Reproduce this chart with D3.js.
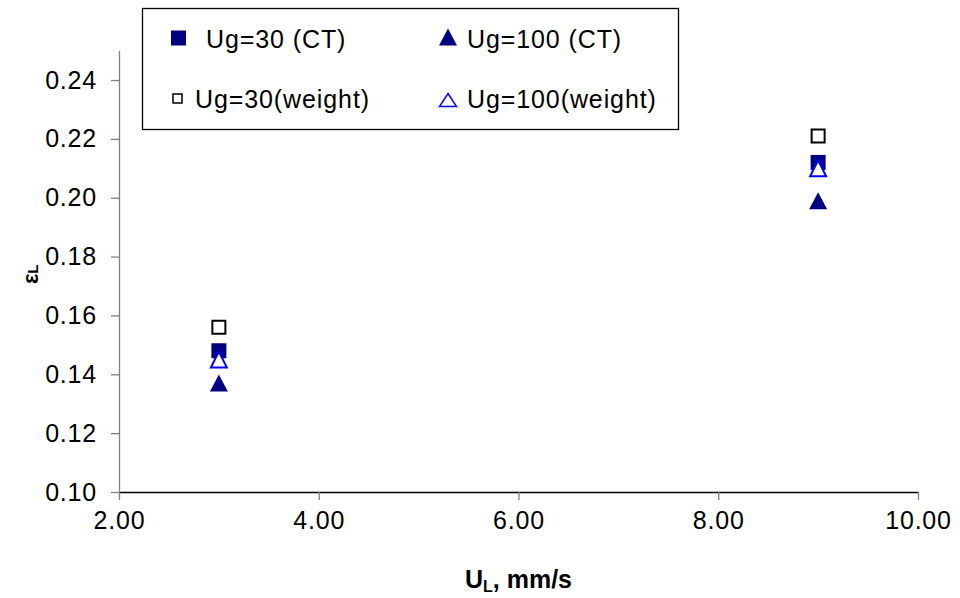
<!DOCTYPE html>
<html><head><meta charset="utf-8">
<script src="https://cdn.jsdelivr.net/npm/d3@7"></script>
<style>
body{margin:0;background:#fff;}
text{font-family:"Liberation Sans",Arial,sans-serif;}
</style></head>
<body><svg id="c" width="960" height="598"></svg>
<script>
const xValues = [3, 9];
const seriesNames = ["Ug=30 (CT)", "Ug=100 (CT)", "Ug=30(weight)", "Ug=100(weight)"];
const ug30CT = [0.148, 0.212];
const ug100CT = [0.137, 0.199];
const ug30Weight = [0.156, 0.221];
const ug100Weight = [0.145, 0.210];
const xTicks = [2, 4, 6, 8, 10];
const yTicks = [0.10, 0.12, 0.14, 0.16, 0.18, 0.20, 0.22, 0.24];

const svg = d3.select("#c");
const mLeft = 119, mRight = 918, mTop = 50.6, mBottom = 492;
const x = d3.scaleLinear().domain([2, 10]).range([mLeft, mRight]);
const y = d3.scaleLinear().domain([0.10, 0.25]).range([mBottom, mTop]);

// axes
const yAxis = svg.append("g").attr("transform", `translate(${mLeft},0)`)
  .call(d3.axisLeft(y).tickValues(yTicks).tickFormat(d3.format(".2f")).tickSizeOuter(0).tickSizeInner(8).tickPadding(14));
yAxis.select(".domain").attr("stroke", "#808080").attr("stroke-width", 1.3);
yAxis.selectAll(".tick line").attr("stroke", "#808080").attr("stroke-width", 1.3);
yAxis.selectAll(".tick text").attr("font-size", 25).attr("fill", "#000").attr("letter-spacing", "0.8px");

const xAxis = svg.append("g").attr("transform", `translate(0,${mBottom})`)
  .call(d3.axisBottom(x).tickValues(xTicks).tickFormat(d3.format(".2f")).tickSizeOuter(0).tickSizeInner(8).tickPadding(11));
xAxis.select(".domain").attr("stroke", "#000").attr("stroke-width", 1.3);
xAxis.selectAll(".tick line").attr("stroke", "#808080").attr("stroke-width", 1.3);
xAxis.selectAll(".tick text").attr("font-size", 25).attr("fill", "#000").attr("letter-spacing", "0.8px");

// axis titles
const xt = svg.append("text").attr("x", (mLeft + mRight) / 2).attr("y", 588)
  .attr("text-anchor", "middle").attr("font-size", 25).attr("font-weight", "bold");
xt.append("tspan").text("U");
xt.append("tspan").text("L").attr("font-size", 16).attr("dy", 4);
xt.append("tspan").text(", mm/s").attr("dy", -4);

const yt = svg.append("text").attr("transform", `translate(38,${(mTop + mBottom) / 2 + 3}) rotate(-90)`)
  .attr("text-anchor", "middle").attr("font-weight", "bold");
yt.append("tspan").text("ε").attr("font-size", 22);
yt.append("tspan").text("L").attr("font-size", 15);

// marker shapes
function sq(s){ return `M${-s/2},${-s/2}h${s}v${s}h${-s}Z`; }
function tri(w, h){ return `M0,${-h/2}L${w/2},${h/2}L${-w/2},${h/2}Z`; }

const styles = [
  {vals: ug30CT, path: sq(15), fill: "#000080", stroke: "none", sw: 0},
  {vals: ug100CT, path: tri(18, 17), fill: "#000080", stroke: "none", sw: 0},
  {vals: ug30Weight, path: sq(13), fill: "#fff", stroke: "#000", sw: 2},
  {vals: ug100Weight, path: tri(16, 16), fill: "#fff", stroke: "#0000ff", sw: 2}
];
styles.forEach(s => {
  svg.append("g").selectAll("path").data(s.vals).join("path")
    .attr("d", s.path)
    .attr("transform", (d, i) => `translate(${x(xValues[i])},${y(d)})`)
    .attr("fill", s.fill).attr("stroke", s.stroke).attr("stroke-width", s.sw);
});

// legend
svg.append("rect").attr("x", 142.5).attr("y", 8.5).attr("width", 536).attr("height", 121)
  .attr("fill", "#fff").attr("stroke", "#000").attr("stroke-width", 1.3);
const legendItems = [
  {name: seriesNames[0], mx: 178.5, my: 38, tx: 206, ty: 48, path: sq(15), fill: "#000080", stroke: "none", sw: 0},
  {name: seriesNames[1], mx: 448, my: 37, tx: 467, ty: 48, path: tri(18, 17), fill: "#000080", stroke: "none", sw: 0},
  {name: seriesNames[2], mx: 177.5, my: 98.5, tx: 195, ty: 108, path: sq(9), fill: "#fff", stroke: "#000", sw: 1.5},
  {name: seriesNames[3], mx: 448, my: 100, tx: 467, ty: 108, path: tri(17, 13), fill: "#fff", stroke: "#0000ff", sw: 1.5}
];
const lg = svg.append("g").selectAll("g").data(legendItems).join("g");
lg.append("path").attr("d", d => d.path).attr("transform", d => `translate(${d.mx},${d.my})`)
  .attr("fill", d => d.fill).attr("stroke", d => d.stroke).attr("stroke-width", d => d.sw);
lg.append("text").attr("x", d => d.tx).attr("y", d => d.ty).attr("font-size", 25)
  .attr("letter-spacing", "0.9px").text(d => d.name);
</script></body></html>
